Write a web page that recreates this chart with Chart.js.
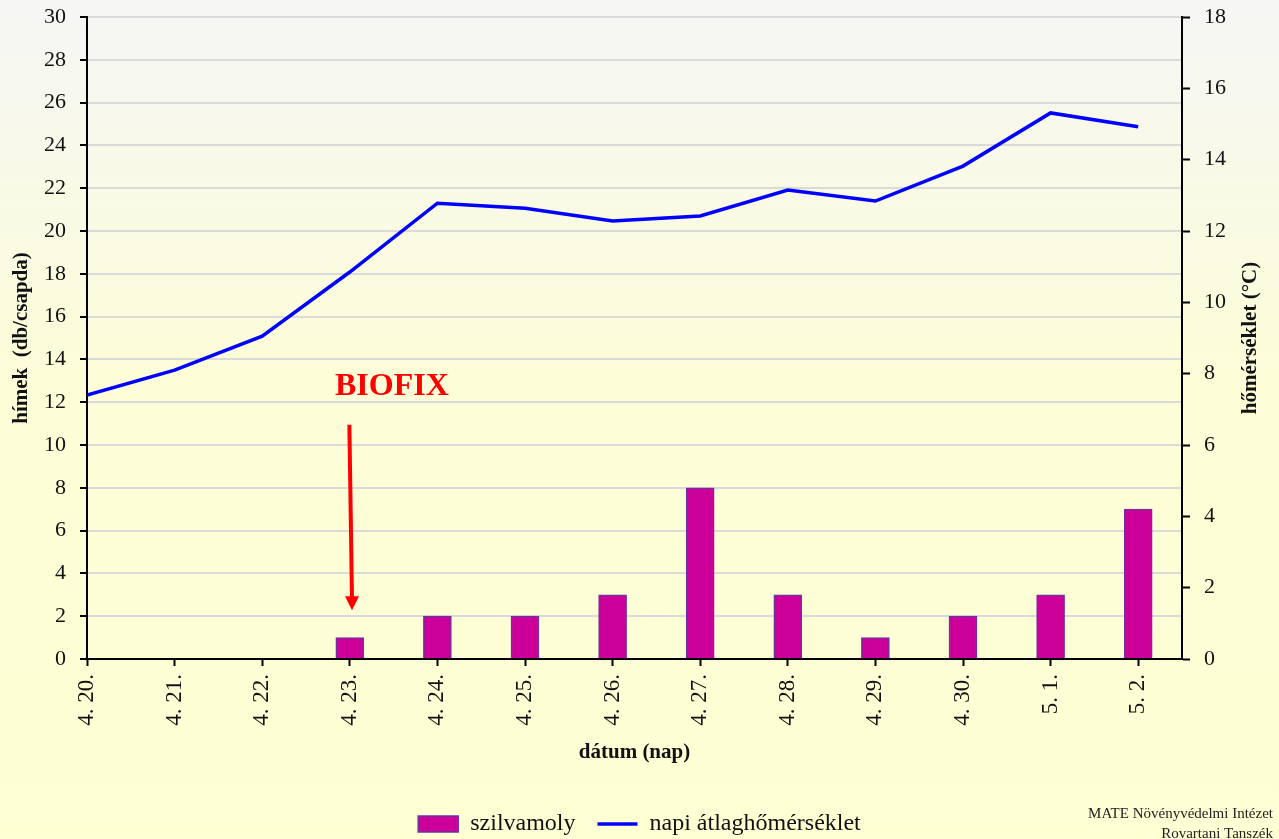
<!DOCTYPE html>
<html>
<head>
<meta charset="utf-8">
<script src="https://cdn.jsdelivr.net/npm/chart.js@4/dist/chart.umd.min.js"></script>
<style>
  html, body { margin: 0; padding: 0; background: #fdfdd8; }
  canvas { display: block; }
</style>
</head>
<body>
<canvas id="chart" width="1279" height="839"></canvas>
<script>
// --- DATA ---
const days = ["4. 20.", "4. 21.", "4. 22.", "4. 23.", "4. 24.", "4. 25.", "4. 26.",
              "4. 27.", "4. 28.", "4. 29.", "4. 30.", "5. 1.", "5. 2."];
const moths = [0, 0, 0, 1, 2, 2, 3, 8, 3, 1, 2, 3, 7];          // hímek (db/csapda)
const temps = [7.4, 8.1, 9.05, 10.85, 12.78, 12.64, 12.28, 12.42, 13.15, 12.84, 13.82, 15.31, 14.92]; // °C
const leftTicks = { min: 0, max: 30, step: 2 };
const rightTicks = { min: 0, max: 18, step: 2 };
const biofixIndex = 3;

const serif = "'Liberation Serif', 'Times New Roman', serif";

// background gradient + extra texts (BIOFIX, right title, footer)
const decor = {
  id: "decor",
  beforeDraw(chart) {
    const { ctx, width, height } = chart;
    const g = ctx.createLinearGradient(0, 0, 0, height);
    g.addColorStop(0, "#f5f6f4");
    g.addColorStop(0.45, "#fdfdd8");
    g.addColorStop(1, "#ffffd4");
    ctx.save();
    ctx.fillStyle = g;
    ctx.fillRect(0, 0, width, height);
    ctx.restore();
  },
  afterDraw(chart) {
    const { ctx } = chart;
    const x = chart.scales.x, yL = chart.scales.y, yR = chart.scales.y1;

    // BIOFIX label + arrow
    ctx.save();
    ctx.fillStyle = "#ff0000";
    ctx.strokeStyle = "#ff0000";
    ctx.font = "bold 32px " + serif;
    ctx.textAlign = "center";
    ctx.textBaseline = "middle";
    ctx.fillText("BIOFIX", x.getPixelForValue(biofixIndex + 0.48), yL.getPixelForValue(12.7));

    const x0 = x.getPixelForValue(biofixIndex - 0.005), y0 = yL.getPixelForValue(10.95);
    const x1 = x.getPixelForValue(biofixIndex + 0.025), y1 = yL.getPixelForValue(2.28);
    ctx.lineWidth = 4;
    ctx.beginPath();
    ctx.moveTo(x0, y0);
    ctx.lineTo(x1, y1 - 12);
    ctx.stroke();
    ctx.beginPath();
    ctx.moveTo(x1 - 7, y1 - 14);
    ctx.lineTo(x1 + 7, y1 - 14);
    ctx.lineTo(x1, y1);
    ctx.closePath();
    ctx.fill();
    ctx.restore();

    // right axis title (reads bottom to top, like the left one)
    ctx.save();
    ctx.fillStyle = "#111";
    ctx.font = "bold 21px " + serif;
    ctx.textAlign = "center";
    ctx.textBaseline = "middle";
    ctx.translate(1251, (yR.top + yR.bottom) / 2);
    ctx.rotate(-Math.PI / 2);
    ctx.fillText("hőmérséklet (°C)", 0, 0);
    ctx.restore();

    // footer
    ctx.save();
    ctx.fillStyle = "#222";
    ctx.font = "15px " + serif;
    ctx.textAlign = "right";
    ctx.textBaseline = "middle";
    ctx.fillText("MATE Növényvédelmi Intézet", 1273, 814);
    ctx.fillText("Rovartani Tanszék", 1273, 834);
    ctx.restore();
  }
};

const tickFont = { family: serif, size: 22 };

// fix the side axes' widths and drop their label overhang padding
const fitSide = w => s => { s.width = w; s.paddingTop = 0; s.paddingBottom = 0; };

new Chart(document.getElementById("chart"), {
  data: {
    datasets: [
      {
        type: "line",
        label: "napi átlaghőmérséklet",
        data: temps.map((t, i) => ({ x: i, y: t })),
        yAxisID: "y1",
        borderColor: "#0000ff",
        backgroundColor: "#0000ff",
        borderWidth: 3.5,
        pointRadius: 0,
        tension: 0,
        pointStyle: "line",
        order: 0
      },
      {
        type: "bar",
        label: "szilvamoly",
        data: moths.map((m, i) => ({ x: i, y: m })),
        yAxisID: "y",
        backgroundColor: "#cc0099",
        borderColor: "#7030a0",
        borderWidth: 1.5,
        barThickness: 28,
        pointStyle: "rect",
        order: 1
      }
    ]
  },
  options: {
    responsive: false,
    animation: false,
    layout: { padding: { top: 17, left: 0, right: 0, bottom: -7 } },
    plugins: {
      tooltip: { enabled: false },
      legend: {
        position: "bottom",
        reverse: true,
        labels: {
          usePointStyle: true,
          pointStyleWidth: 40,
          boxHeight: 16,
          padding: 22,
          color: "#111",
          font: { family: serif, size: 24 }
        }
      }
    },
    scales: {
      x: {
        type: "linear",
        min: 0,
        max: 12.5,
        offset: false,
        afterFit: s => { s.height = 131; },
        border: { display: true, color: "#000", width: 2 },
        grid: { offset: false, drawOnChartArea: false, tickColor: "#000", tickWidth: 2, tickLength: 7 },
        ticks: {
          stepSize: 1,
          includeBounds: false,
          autoSkip: false,
          minRotation: 90,
          maxRotation: 90,
          padding: 8,
          color: "#111",
          font: { family: serif, size: 23 },
          callback: v => days[v] ?? ""
        },
        title: {
          display: true,
          text: "dátum (nap)",
          color: "#111",
          font: { family: serif, size: 21, weight: "bold" },
          padding: { top: 4, bottom: 25 }
        }
      },
      y: {
        position: "left",
        min: leftTicks.min,
        max: leftTicks.max,
        afterFit: fitSide(87),
        border: { display: true, color: "#000", width: 2 },
        grid: { color: "#dadada", lineWidth: 2, tickColor: "#000", tickWidth: 2, tickLength: 7 },
        ticks: { stepSize: leftTicks.step, padding: 14, color: "#111", font: tickFont },
        title: {
          display: true,
          text: "hímek  (db/csapda)",
          color: "#111",
          font: { family: serif, size: 21, weight: "bold" },
          padding: { top: 9, bottom: 0 }
        }
      },
      y1: {
        position: "right",
        min: rightTicks.min,
        max: rightTicks.max,
        afterFit: fitSide(97),
        border: { display: true, color: "#000", width: 2 },
        grid: { drawOnChartArea: false, tickColor: "#000", tickWidth: 2, tickLength: 8 },
        ticks: { stepSize: rightTicks.step, padding: 14, color: "#111", font: tickFont }
      }
    }
  },
  plugins: [decor]
});
</script>
</body>
</html>
